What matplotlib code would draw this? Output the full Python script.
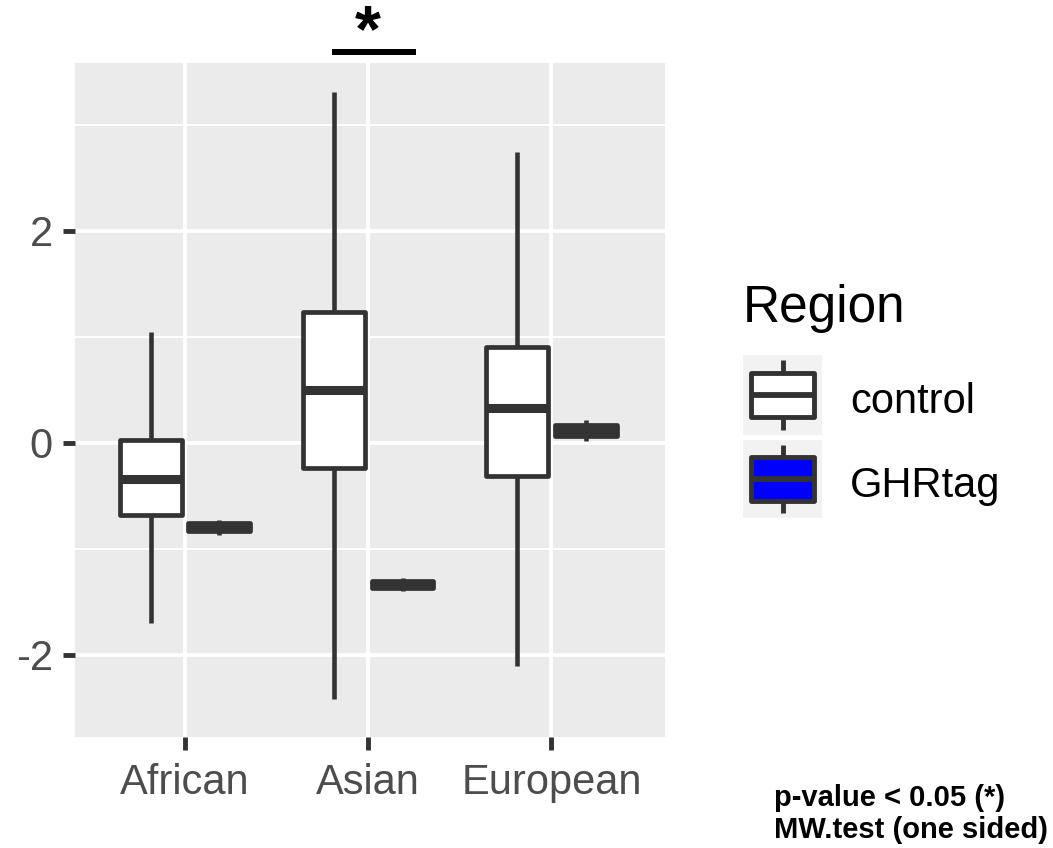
import matplotlib
matplotlib.use("Agg")
import matplotlib.pyplot as plt
from matplotlib.patches import Rectangle

plt.rcParams['font.family'] = ['Liberation Sans', 'DejaVu Sans']

# groups and box statistics (whisker low, Q1, median, Q3, whisker high)
regions = ['African', 'Asian', 'European']
groups = ['control', 'GHRtag']
control_lo = [-1.70, -2.42, -2.10]
control_q1 = [-0.68, -0.24, -0.31]
control_med = [-0.34, 0.50, 0.33]
control_q3 = [0.03, 1.24, 0.91]
control_hi = [1.05, 3.31, 2.75]
ghr_lo = [-0.87, -1.40, 0.015]
ghr_q1 = [-0.83, -1.37, 0.07]
ghr_med = [-0.79, -1.335, 0.118]
ghr_q3 = [-0.755, -1.30, 0.165]
ghr_hi = [-0.73, -1.27, 0.22]
fills = {'control': '#FFFFFF', 'GHRtag': '#0000FF'}

y_ticks = [-2, 0, 2]
y_minor = [-1, 1, 3]

panel_bg = '#EBEBEB'
dark = '#333333'

fig = plt.figure(figsize=(10.53, 8.48), dpi=100)
W, H = 1053, 848
ax = fig.add_axes([75 / W, (H - 737) / H, (665 - 75) / W, (737 - 63) / H])
ax.set_facecolor(panel_bg)
for s in ax.spines.values():
    s.set_visible(False)

ax.set_xlim(-0.6, 2.62)
ax.set_ylim(-2.774, 3.585)

# grid
for y in y_minor:
    ax.axhline(y, color='white', lw=1.5, zorder=0)
for y in y_ticks:
    ax.axhline(y, color='white', lw=2.8, zorder=0)
for x in range(len(regions)):
    ax.axvline(x, color='white', lw=2.8, zorder=0)


def make_stats(lo, q1, med, q3, hi):
    return [dict(whislo=a, q1=b, med=c, q3=d, whishi=e, fliers=[])
            for a, b, c, d, e in zip(lo, q1, med, q3, hi)]


dodge = 0.1875
width = 0.3375
sets = [
    ('control', make_stats(control_lo, control_q1, control_med, control_q3, control_hi), -dodge),
    ('GHRtag', make_stats(ghr_lo, ghr_q1, ghr_med, ghr_q3, ghr_hi), dodge),
]
for name, stats, off in sets:
    ax.bxp(stats, positions=[i + off for i in range(len(regions))], widths=width,
           patch_artist=True, showcaps=False, showfliers=False,
           boxprops=dict(facecolor=fills[name], edgecolor=dark, linewidth=3.4,
                         joinstyle='round'),
           medianprops=dict(color=dark, linewidth=6.5, solid_capstyle='butt'),
           whiskerprops=dict(color=dark, linewidth=3.3, solid_capstyle='butt'),
           manage_ticks=False, zorder=3)

ax.set_xticks(range(len(regions)))
ax.set_xticklabels(regions)
ax.set_yticks(y_ticks)
ax.set_yticklabels(['-2', '0', '2'])
ax.tick_params(axis='both', colors=dark, length=9, width=3.5, labelsize=30,
               labelcolor='#4D4D4D')
ax.tick_params(axis='x', pad=10)
ax.tick_params(axis='y', pad=7)

# significance bar between Asian groups
ax.plot([0.803, 1.262], [3.693, 3.693], color='black', lw=4.3,
        solid_capstyle='butt', clip_on=False)
ax.text(1.0, 3.70, '*', ha='center', va='baseline', fontsize=48,
        fontweight='bold', color='black', clip_on=False)

# legend
fig.text(743 / W, 1 - 322 / H, 'Region', fontsize=37, va='baseline', ha='left')
keys = [(355, 435), (440, 518)]
for (top, bot), name in zip(keys, groups):
    kax = fig.add_axes([743 / W, 1 - bot / H, (822 - 743) / W, (bot - top) / H])
    kax.set_xlim(0, 1)
    kax.set_ylim(0, 1)
    kax.axis('off')
    kax.add_patch(Rectangle((0, 0), 1, 1, facecolor='#F2F2F2', edgecolor='none',
                            transform=kax.transAxes, zorder=0))
    kax.add_patch(Rectangle((0.1, 0.22), 0.8, 0.56, facecolor=fills[name],
                            edgecolor=dark, lw=3.5, joinstyle='round', zorder=2))
    kax.plot([0.1, 0.9], [0.5, 0.5], color=dark, lw=4.2, solid_capstyle='butt', zorder=3)
    kax.plot([0.5, 0.5], [0.06, 0.22], color=dark, lw=3.5, solid_capstyle='butt')
    kax.plot([0.5, 0.5], [0.78, 0.94], color=dark, lw=3.5, solid_capstyle='butt')

fig.text(850 / W, 1 - 413 / H, 'control', fontsize=30, va='baseline', ha='left')
fig.text(850 / W, 1 - 497 / H, 'GHRtag', fontsize=30, va='baseline', ha='left')

# test note
fig.text(890 / W, 1 - 798 / H, 'p-value < 0.05 (*)', fontsize=21,
         fontweight='bold', ha='center', va='center')
fig.text(911 / W, 1 - 830 / H, 'MW.test (one sided)', fontsize=21,
         fontweight='bold', ha='center', va='center')

fig.savefig('out.png', dpi=100)
